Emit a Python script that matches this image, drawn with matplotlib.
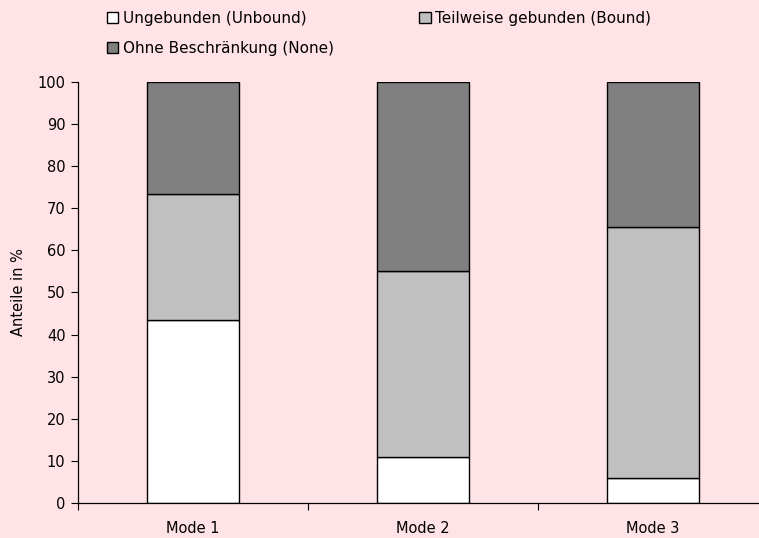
import matplotlib
matplotlib.use("Agg")
import matplotlib.pyplot as plt
import numpy as np

# Daten
modes = ["Mode 1", "Mode 2", "Mode 3"]
unbound = [43.5, 11.0, 6.0]
bound = [30.0, 44.0, 59.5]
none_ = [26.5, 45.0, 34.5]

labels = ["Ungebunden (Unbound)", "Teilweise gebunden (Bound)", "Ohne Beschränkung (None)"]
colors = ["#FFFFFF", "#C0C0C0", "#808080"]
bg = "#FFE3E6"

plt.rcParams['font.family'] = ['DejaVu Sans']

fig = plt.figure(figsize=(7.59, 5.38), dpi=100, facecolor=bg)
ax = fig.add_axes([78 / 759, 1 - 503 / 538, 690 / 759, 421 / 538])
ax.set_facecolor(bg)

x = np.arange(len(modes))
b1 = ax.bar(x, unbound, width=0.4, color=colors[0], edgecolor="black", linewidth=1)
b2 = ax.bar(x, bound, width=0.4, bottom=unbound, color=colors[1], edgecolor="black", linewidth=1)
b3 = ax.bar(x, none_, width=0.4, bottom=np.array(unbound) + np.array(bound),
            color=colors[2], edgecolor="black", linewidth=1)

ax.set_xlim(-0.5, 2.5)
ax.set_ylim(0, 100)
ax.set_yticks(range(0, 101, 10))
ax.tick_params(axis="y", labelsize=10.5, length=5, width=0.8, color="black", pad=4)

# Kategorien: Striche zwischen den Balken, Beschriftung in der Mitte
ax.set_xticks([-0.5, 0.5, 1.5, 2.5])
ax.set_xticklabels([])
ax.set_xticks(x, minor=True)
ax.set_xticklabels(modes, minor=True)
ax.tick_params(axis="x", which="major", direction="out", length=5, width=0.8)
ax.tick_params(axis="x", which="minor", length=0, labelsize=10.5, pad=13)

for s in ["top", "right"]:
    ax.spines[s].set_visible(False)
ax.spines["left"].set_linewidth(0.9)
ax.spines["bottom"].set_linewidth(0.9)

ax.set_ylabel("Anteile in %", fontsize=10.5, labelpad=8)

# Legende zeilenweise: Reihenfolge für Spaltenauffüllung anpassen
handles = [b1, b3, b2]
leg_labels = [labels[0], labels[2], labels[1]]
fig.legend(handles, leg_labels, ncol=2, loc="upper left", bbox_to_anchor=(96 / 759, 1),
           frameon=False, fontsize=11, handlelength=0.75, handleheight=0.75, handletextpad=0.3,
           columnspacing=5.6, labelspacing=1.0, borderpad=0.2)

fig.savefig("out.png", dpi=100, facecolor=bg)
